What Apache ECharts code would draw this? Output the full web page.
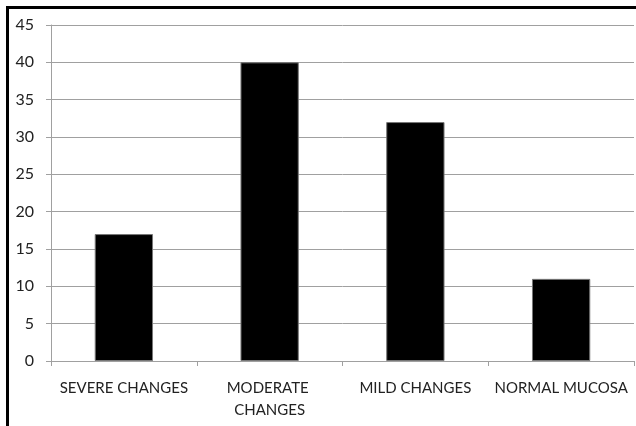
<!DOCTYPE html>
<html>
<head>
<meta charset="utf-8">
<script src="https://cdn.jsdelivr.net/npm/echarts@6/dist/echarts.min.js"></script>
<style>
  html, body { margin: 0; padding: 0; background: #fff; }
  #chart { width: 636px; height: 426px; }
</style>
</head>
<body>
<div id="chart"></div>
<script>
// Mucosal findings by category
const categories = ['SEVERE CHANGES', 'MODERATE CHANGES', 'MILD CHANGES', 'NORMAL MUCOSA'];
const values = [17, 40, 32, 11];
const yTicks = { min: 0, max: 45, interval: 5 };

const chart = echarts.init(document.getElementById('chart'));
const gray = '#a0a0a0';
const font = 'Lato, "Open Sans", sans-serif';

chart.setOption({
  animation: false,
  grid: { left: 51, right: 2, top: 25, bottom: 65 },
  graphic: [{
    type: 'rect',
    shape: { x: 7.5, y: 7.5, width: 700, height: 500 },
    style: { fill: 'none', stroke: '#000', lineWidth: 3 }
  }],
  xAxis: {
    type: 'category',
    data: categories,
    axisLine: { lineStyle: { color: gray, width: 1 } },
    axisTick: { show: true, length: 5, lineStyle: { color: gray } },
    axisLabel: {
      color: '#222', fontFamily: font, fontSize: 15, margin: 16,
      lineHeight: 22, width: 140, overflow: 'break', interval: 0
    }
  },
  yAxis: {
    type: 'value',
    min: yTicks.min, max: yTicks.max, interval: yTicks.interval,
    axisLine: { show: true, lineStyle: { color: gray, width: 1 } },
    axisTick: { show: true, length: 5, lineStyle: { color: gray } },
    splitLine: { lineStyle: { color: gray, width: 1 } },
    axisLabel: { color: '#222', fontFamily: font, fontSize: 16, margin: 17 }
  },
  series: [{
    type: 'bar',
    data: values,
    barWidth: '40%',
    itemStyle: { color: '#000', borderColor: '#777', borderWidth: 1 }
  }]
});
</script>
</body>
</html>
